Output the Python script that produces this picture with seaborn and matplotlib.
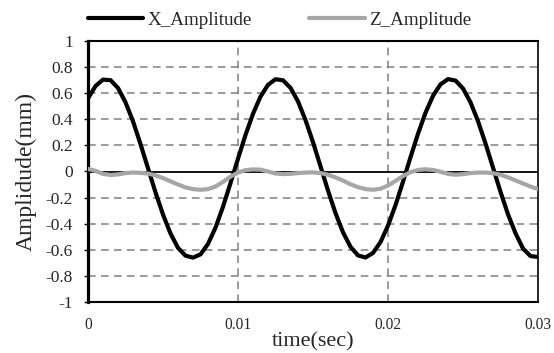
import numpy as np
import pandas as pd
import seaborn as sns
from matplotlib import pyplot as plt
from matplotlib.ticker import FuncFormatter, MultipleLocator

# time axis, one sample every 0.5 ms
time_sec = [round(i * 0.0005, 4) for i in range(61)]

x_amplitude = [
    0.560, 0.655, 0.704, 0.700, 0.640, 0.530, 0.385, 0.210, 0.025, -0.160,
    -0.330, -0.475, -0.585, -0.645, -0.660, -0.635, -0.555, -0.430, -0.270, -0.089,
    0.098, 0.280, 0.442, 0.574, 0.664, 0.707, 0.699, 0.641, 0.537, 0.394,
    0.225, 0.040, -0.146, -0.319, -0.466, -0.577, -0.643, -0.659, -0.624, -0.541,
    -0.415, -0.258, -0.078, 0.109, 0.289, 0.450, 0.580, 0.668, 0.708, 0.697,
    0.636, 0.530, 0.386, 0.215, 0.030, -0.156, -0.328, -0.473, -0.590, -0.648,
    -0.655,
]

z_amplitude = [
    0.020, 0.005, -0.018, -0.027, -0.022, -0.012, -0.008, -0.010, -0.016, -0.030,
    -0.050, -0.075, -0.100, -0.122, -0.135, -0.140, -0.135, -0.115, -0.080, -0.040,
    -0.008, 0.010, 0.016, 0.014, 0.000, -0.015, -0.020, -0.018, -0.012, -0.008,
    -0.007, -0.012, -0.025, -0.045, -0.070, -0.098, -0.120, -0.135, -0.140, -0.132,
    -0.108, -0.072, -0.035, -0.005, 0.012, 0.017, 0.012, -0.002, -0.018, -0.025,
    -0.020, -0.012, -0.008, -0.008, -0.013, -0.025, -0.045, -0.068, -0.092, -0.115,
    -0.135,
]

df = pd.DataFrame({'time': time_sec, 'X_Amplitude': x_amplitude, 'Z_Amplitude': z_amplitude})

sns.set_style('white')
plt.rcParams['font.family'] = ['Liberation Serif', 'DejaVu Serif']
plt.rcParams['axes.unicode_minus'] = False

fig = plt.figure(figsize=(5.54, 3.53), dpi=100)
ax = fig.add_axes([88 / 554, 1 - 302 / 353, 450 / 554, 261 / 353])

# grid + zero line
for yv in [-0.8, -0.6, -0.4, -0.2, 0.2, 0.4, 0.6, 0.8]:
    ax.axhline(yv, color='#808080', lw=1.1, ls=(0, (5, 3.5)), zorder=1)
for xv in [0.01, 0.02]:
    ax.axvline(xv, color='#808080', lw=1.1, ls=(0, (5, 3.5)), zorder=1)
ax.axhline(0, color='black', lw=1.3, zorder=2)

sns.lineplot(data=df, x='time', y='X_Amplitude', ax=ax, color='black', lw=3.0,
             label='X_Amplitude', zorder=3)
sns.lineplot(data=df, x='time', y='Z_Amplitude', ax=ax, color='#a6a6a6', lw=3.0,
             label='Z_Amplitude', zorder=4)

ax.set_xlim(0, 0.03)
ax.set_ylim(-1, 1)
ax.xaxis.set_major_locator(MultipleLocator(0.01))
ax.yaxis.set_major_locator(MultipleLocator(0.2))
fmt = FuncFormatter(lambda v, p: '%g' % round(v, 4))
ax.xaxis.set_major_formatter(fmt)
ax.yaxis.set_major_formatter(fmt)
ax.tick_params(axis='y', which='major', left=True, length=3, width=1, color='black',
               pad=8, labelsize=12.5, direction='out')
ax.tick_params(axis='x', which='major', bottom=False, length=0, pad=11, labelsize=11.2)

for side, w in [('left', 2.3), ('bottom', 1.5), ('top', 1.5), ('right', 1.2)]:
    ax.spines[side].set_visible(True)
    ax.spines[side].set_color('black')
    ax.spines[side].set_linewidth(w)

ax.set_xlabel('time(sec)', fontsize=16, labelpad=-1)
ax.set_ylabel('Amplidude(mm)', fontsize=17, labelpad=6)

handles, labels = ax.get_legend_handles_labels()
ax.get_legend().remove()
fig.legend(handles, labels, loc='center left', bbox_to_anchor=(88 / 554, 1 - 20 / 353),
           ncol=2, frameon=False, fontsize=13.7, handlelength=2.9, handletextpad=0.25,
           columnspacing=3.0, borderpad=0, borderaxespad=0)

fig.savefig('out.png', dpi=100)
